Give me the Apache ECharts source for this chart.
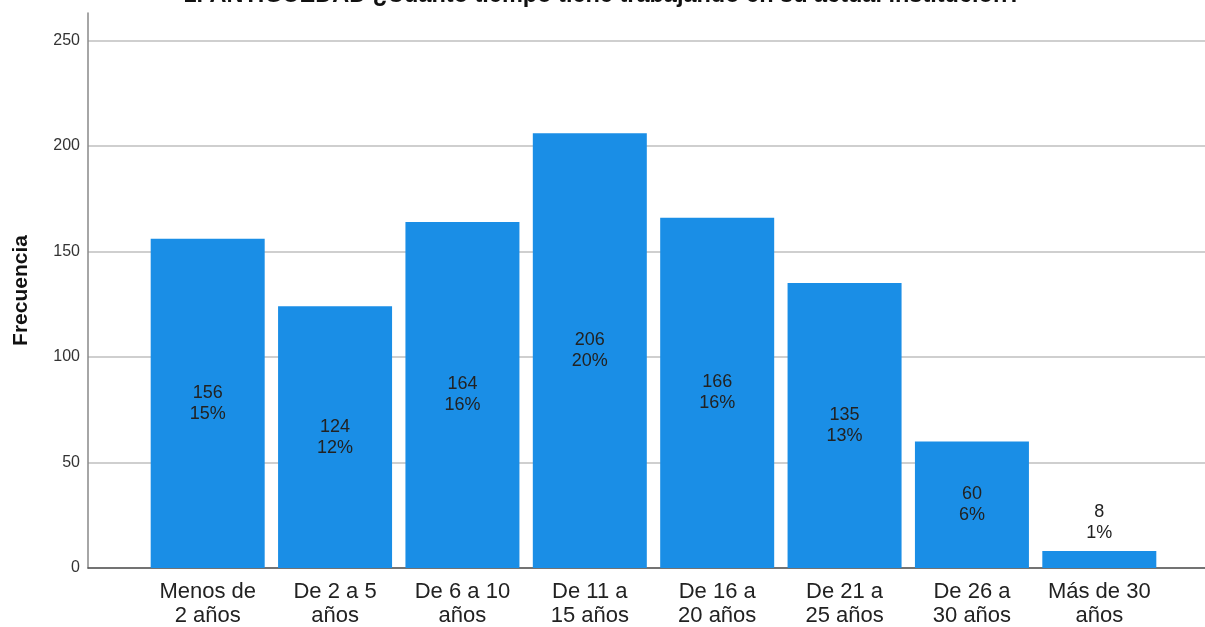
<!DOCTYPE html>
<html><head><meta charset="utf-8">
<script src="https://cdn.jsdelivr.net/npm/echarts@6/dist/echarts.min.js"></script>
<style>html,body{margin:0;padding:0;background:#fff}#c{width:1205px;height:627px}</style>
</head><body><div id="c"></div>
<script>
const titleText = '1. ANTIGÜEDAD ¿Cuánto tiempo tiene trabajando en su actual institución?';
const categories = ['Menos de\n2 años','De 2 a 5\naños','De 6 a 10\naños','De 11 a\n15 años','De 16 a\n20 años','De 21 a\n25 años','De 26 a\n30 años','Más de 30\naños'];
const counts = [156,124,164,206,166,135,60,8];
const percents = ['15%','12%','16%','20%','16%','13%','6%','1%'];
const yTicks = [0,50,100,150,200,250];
const yName = 'Frecuencia';

const font = 'Liberation Sans, Arial, sans-serif';
const chart = echarts.init(document.getElementById('c'));
const yMax = 263;
chart.setOption({
  animation:false,
  title:{text:titleText,left:'center',top:-21,textStyle:{fontFamily:font,fontWeight:'bold',fontSize:23.5,color:'#111'}},
  grid:[
    {left:88,right:0,top:13,bottom:59,outerBoundsMode:'none',containLabel:false},
    {left:144,right:42,top:13,bottom:59,outerBoundsMode:'none',containLabel:false}
  ],
  xAxis:[
    {type:'category',gridIndex:0,data:[''],axisLine:{lineStyle:{color:'#555',width:1.5}},axisTick:{show:false},axisLabel:{show:false}},
    {type:'category',gridIndex:1,data:categories,axisLine:{show:false},axisTick:{show:false},
     axisLabel:{fontFamily:font,fontSize:22,color:'#222',lineHeight:24,margin:12,interval:0}}
  ],
  yAxis:[
    {type:'value',gridIndex:0,min:0,max:yMax,interval:50,
     name:yName,nameLocation:'middle',nameGap:56,nameRotate:90,
     nameTextStyle:{fontFamily:font,fontWeight:'bold',fontSize:21,color:'#111'},
     axisLine:{show:true,lineStyle:{color:'#888',width:1.5}},axisTick:{show:false},
     axisLabel:{fontFamily:font,fontSize:16,color:'#333',margin:8,formatter:v=>yTicks.includes(v)?String(v):''},
     splitLine:{show:true,showMaxLine:false,lineStyle:{color:'#cfcfcf',width:2}}},
    {type:'value',gridIndex:1,min:0,max:yMax,interval:50,show:false,splitLine:{show:false}}
  ],
  series:[{
    type:'bar',xAxisIndex:1,yAxisIndex:1,barWidth:114,
    itemStyle:{color:'#1a8ee6'},
    data:counts.map((v,i)=>({value:v,label: v<20?{position:'top',distance:8}:{}})),
    label:{show:true,position:'inside',fontFamily:font,fontSize:18,color:'#222',lineHeight:21,
      formatter:p=>counts[p.dataIndex]+'\n'+percents[p.dataIndex]}
  }]
});
</script></body></html>
